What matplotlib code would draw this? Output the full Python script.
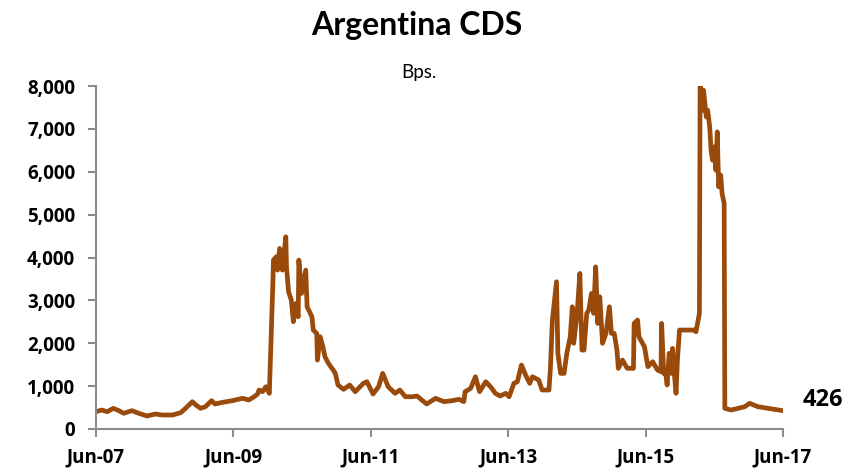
import numpy as np
import matplotlib.pyplot as plt
from matplotlib.ticker import FuncFormatter

# CDS spread (bps) against time in decimal years
years = [
    2007.42, 2007.50, 2007.58, 2007.67, 2007.75, 2007.82, 2007.94, 2008.04,
    2008.16, 2008.28, 2008.38, 2008.53, 2008.65, 2008.72, 2008.82, 2008.87,
    2008.94, 2009.01, 2009.10, 2009.15, 2009.26, 2009.40, 2009.55, 2009.64,
    2009.72, 2009.77, 2009.79, 2009.84, 2009.89, 2009.94, 2009.97, 2009.99,
    2010.00, 2010.04, 2010.06, 2010.09, 2010.13, 2010.18, 2010.19, 2010.22,
    2010.26, 2010.29, 2010.33, 2010.36, 2010.37, 2010.41, 2010.47, 2010.49,
    2010.56, 2010.58, 2010.63, 2010.64, 2010.68, 2010.72, 2010.75, 2010.80,
    2010.87, 2010.90, 2010.94, 2011.02, 2011.11, 2011.19, 2011.31, 2011.36,
    2011.45, 2011.53, 2011.59, 2011.67, 2011.77, 2011.84, 2011.92, 2012.02,
    2012.09, 2012.16, 2012.23, 2012.36, 2012.48, 2012.60, 2012.70, 2012.77,
    2012.79, 2012.87, 2012.94, 2013.00, 2013.09, 2013.16, 2013.23, 2013.30,
    2013.38, 2013.43, 2013.50, 2013.55, 2013.61, 2013.67, 2013.73, 2013.77,
    2013.86, 2013.91, 2014.01, 2014.03, 2014.06, 2014.12, 2014.14, 2014.18,
    2014.23, 2014.27, 2014.32, 2014.35, 2014.37, 2014.42, 2014.46, 2014.49,
    2014.52, 2014.56, 2014.59, 2014.63, 2014.66, 2014.69, 2014.72, 2014.75,
    2014.79, 2014.84, 2014.89, 2014.92, 2014.96, 2015.00, 2015.02, 2015.08,
    2015.15, 2015.24, 2015.25, 2015.30, 2015.32, 2015.40, 2015.45, 2015.52,
    2015.59, 2015.64, 2015.65, 2015.68, 2015.71, 2015.73, 2015.76, 2015.79,
    2015.81, 2015.83, 2015.86, 2015.88, 2015.91, 2016.13, 2016.15, 2016.20,
    2016.21, 2016.25, 2016.26, 2016.30, 2016.32, 2016.35, 2016.37, 2016.39,
    2016.42, 2016.44, 2016.46, 2016.48, 2016.51, 2016.53, 2016.56, 2016.57,
    2016.66, 2016.76, 2016.86, 2016.93, 2017.05, 2017.20, 2017.29, 2017.42,
]
spread = [
    403, 443, 403, 482, 427, 366, 427, 366,
    303, 350, 326, 326, 380, 482, 637, 560,
    482, 520, 660, 583, 622, 660, 716, 676,
    753, 816, 909, 870, 986, 832, 2308, 3317,
    3940, 4016, 3706, 4212, 3706, 4483, 3783, 3200,
    3007, 2501, 2930, 2618, 3940, 3163, 3706, 2851,
    2618, 2308, 2230, 1608, 2152, 1918, 1685, 1531,
    1375, 1298, 1026, 925, 1026, 870, 1065, 1103,
    816, 986, 1298, 986, 832, 909, 753, 753,
    769, 676, 583, 716, 637, 660, 692, 637,
    870, 948, 1219, 870, 1103, 986, 832, 769,
    832, 753, 1065, 1103, 1492, 1259, 1065, 1219,
    1142, 909, 909, 1375, 2541, 3434, 1765, 1298,
    1298, 1765, 2152, 2851, 1998, 2697, 3629, 1841,
    1841, 2697, 2774, 3163, 2697, 3783, 2464, 3084,
    1998, 2230, 2851, 2230, 2230, 1841, 1415, 1608,
    1415, 1415, 2464, 2541, 2152, 1918, 1453, 1569,
    1375, 1336, 2464, 1298, 1298, 1026, 1765, 1298,
    1881, 1375, 832, 1608, 2308, 2308, 2268, 2697,
    8050, 7436, 7902, 7280, 7436, 7047, 6503, 6270,
    6580, 6037, 6930, 5648, 5921, 5494, 5261, 482,
    443, 480, 520, 599, 520, 482, 457, 426,
]

tick_years = [2007.4167 + 2 * k for k in range(6)]
tick_labels = ["Jun-07", "Jun-09", "Jun-11", "Jun-13", "Jun-15", "Jun-17"]

plt.rcParams['font.family'] = ['Open Sans', 'DejaVu Sans']

fig = plt.figure(figsize=(8.63, 4.69), dpi=100)
ax = fig.add_axes([0.1112, 0.0853, 0.7961, 0.7313])

ax.plot(years, spread, color='#9A4A0A', lw=3.4, solid_joinstyle='round',
        solid_capstyle='round')

ax.set_xlim(tick_years[0], tick_years[-1])
ax.set_ylim(0, 8000)
ax.set_xticks(tick_years)
ax.set_xticklabels(tick_labels)
ax.set_yticks(np.arange(0, 8001, 1000))
ax.yaxis.set_major_formatter(FuncFormatter(lambda v, p: f"{int(v):,}"))

for side in ['top', 'right']:
    ax.spines[side].set_visible(False)
for side in ['left', 'bottom']:
    ax.spines[side].set_color('#8C8C8C')
    ax.spines[side].set_linewidth(1.5)
ax.tick_params(axis='both', colors='#8C8C8C', width=1.5, length=6,
               labelcolor='black', labelsize=13.5)
ax.tick_params(axis='y', pad=9)
ax.tick_params(axis='x', pad=7)
for lbl in ax.get_xticklabels() + ax.get_yticklabels():
    lbl.set_fontweight('bold')

fig.text(0.483, 0.945, "Argentina CDS", ha='center', va='center',
         fontsize=23, fontweight='bold', family='Lato')
fig.text(0.485, 0.845, "Bps.", ha='center', va='center', fontsize=13.5,
         family='Lato')

ax.annotate(f"{spread[-1]}", xy=(years[-1], spread[-1]),
            xytext=(14, 8), textcoords='offset points',
            ha='left', va='center', fontsize=17, fontweight='bold')

fig.savefig("out.png", dpi=100)
